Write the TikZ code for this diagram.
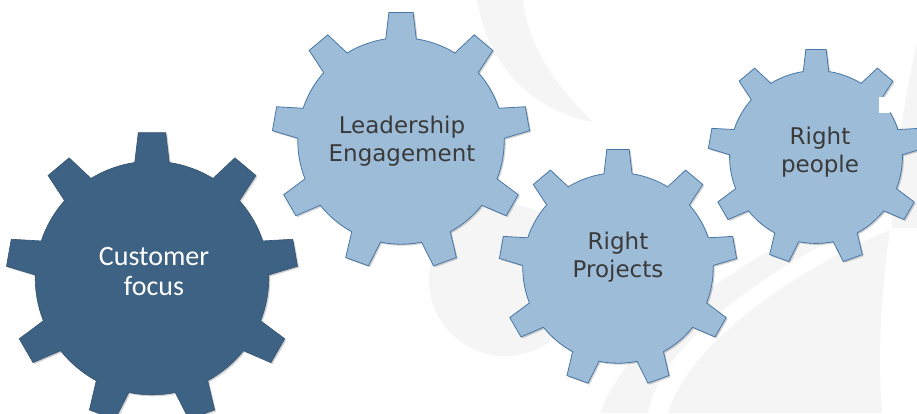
\documentclass[tikz,border=0pt]{standalone}
\usepackage{fontspec}
\setmainfont{DejaVu Sans}
\newfontfamily\calibrifont{Carlito}

\definecolor{darkgear}{RGB}{61,98,132}
\definecolor{lightgear}{RGB}{157,188,216}
\definecolor{gearline}{RGB}{72,118,165}
\definecolor{labeltext}{RGB}{58,58,58}
\definecolor{watermark}{RGB}{245,245,245}

% gear outline: style, centre x, centre y, outer radius (body is 0.8 of it)
\newcommand{\drawgear}[4]{%
  \pgfmathsetmacro{\ri}{0.8*#4}
  \draw[#1, shift={(#2,#3)}] (-98.5:\ri)
    \foreach \t in {-90,-50,...,230} {
      -- (\t-5.4:#4) -- (\t+5.4:#4) -- (\t+8.5:\ri)
      arc[start angle=\t+8.5, end angle=\t+31.5, radius=\ri]
    } -- cycle;
}

\begin{document}
\begin{tikzpicture}[x=1pt, y=-1pt,
    gearshadow/.style={preaction={fill=black, opacity=0.18,
        transform canvas={xshift=1.5pt, yshift=-1.5pt}}},
    darkgearstyle/.style={gearshadow, fill=darkgear, draw=darkgear!85!black, line width=0.6pt},
    lightgearstyle/.style={gearshadow, fill=lightgear, draw=gearline, line width=0.8pt},
    darklabel/.style={text=white, align=center,
        font=\calibrifont\fontsize{28}{30}\selectfont},
    lightlabel/.style={text=labeltext, align=center,
        font=\fontsize{23}{28}\selectfont}]
  \useasboundingbox (0,0) rectangle (917,413);

  % faint watermark swirls
  \fill[watermark] (477,0) .. controls (488,65) and (530,110) .. (593,122)
      .. controls (562,92) and (528,50) .. (523,0) -- cycle;
  \fill[watermark] (505,280) circle (76);
  \fill[watermark] (600,413) .. controls (630,330) and (760,240) .. (917,182)
      -- (917,200) .. controls (790,252) and (662,335) .. (648,413) -- cycle;
  \fill[watermark] (668,413) .. controls (690,340) and (800,268) .. (890,230)
      .. controls (880,300) and (878,360) .. (882,413) -- cycle;
  \fill[watermark] (917,43) .. controls (902,110) and (894,170) .. (892,228)
      -- (917,228) -- cycle;

  % gears
  \drawgear{darkgearstyle}{152}{278}{146}
  \drawgear{lightgearstyle}{401}{141}{129}
  \drawgear{lightgearstyle}{618}{268}{119}
  \drawgear{lightgearstyle}{816}{157}{108}
  \fill[white] (879,97) rectangle (890,113);

  % labels
  \node[darklabel] (cust) at (154,272) {Customer\\focus};
  \node[lightlabel] (lead) at (402,141) {Leadership\\Engagement};
  \node[lightlabel] (proj) at (618,257) {Right\\Projects};
  \node[lightlabel] (ppl) at (820,152) {Right\\people};
\end{tikzpicture}
\end{document}
